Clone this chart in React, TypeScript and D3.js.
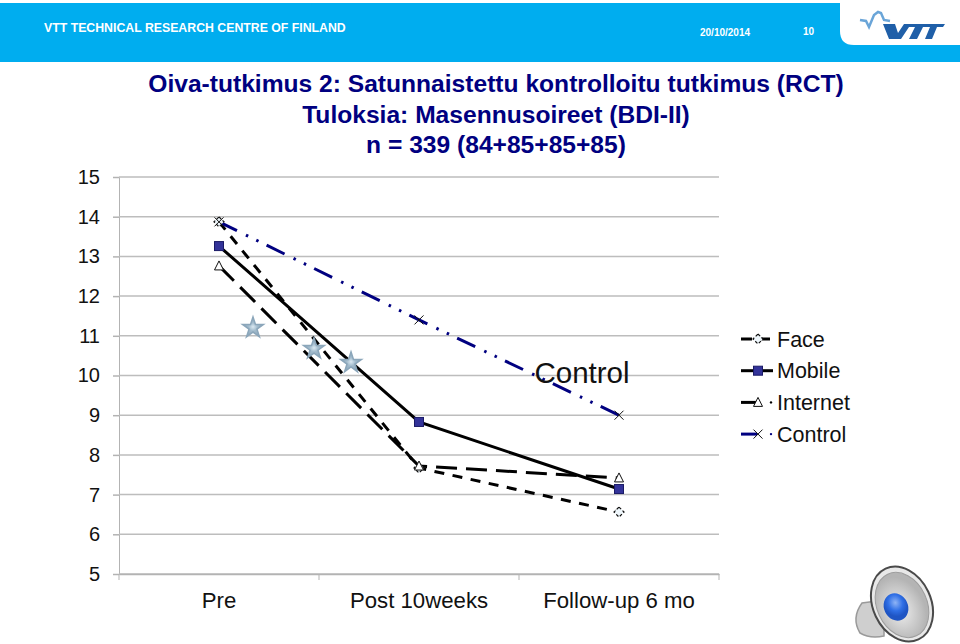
import React, { useEffect, useRef } from 'react'
import * as d3 from 'd3'

const categories = ['Pre', 'Post 10weeks', 'Follow-up 6 mo']
const yTicks = [5, 6, 7, 8, 9, 10, 11, 12, 13, 14, 15]
const face = [13.87, 7.67, 6.56]
const mobile = [13.26, 8.83, 7.14]
const internet = [12.76, 7.72, 7.42]
const control = [13.87, 11.4, 9.0]
// significance stars: position along the axis in category units, then value
const starX = [0.17, 0.475, 0.66]
const starY = [11.2, 10.67, 10.32]
const titleLines = [
  'Oiva-tutkimus 2: Satunnaistettu kontrolloitu tutkimus (RCT)',
  'Tuloksia: Masennusoireet (BDI-II)',
  'n = 339 (84+85+85+85)',
]

const FONT = 'Liberation Sans, Arial, sans-serif'
const NAVY = '#000080'

const series = [
  { name: 'Face', values: face, color: '#000', width: 3, dash: '10 8.5', marker: 'diamond' },
  { name: 'Mobile', values: mobile, color: '#000', width: 3, dash: '', marker: 'square' },
  { name: 'Internet', values: internet, color: '#000', width: 3, dash: '21 9', marker: 'triangle' },
  { name: 'Control', values: control, color: NAVY, width: 3, dash: '20 10 2.5 9 2.5 9', marker: 'cross' },
]

const drawMarker = (g: any, kind: string, x: number, y: number) => {
  if (kind === 'square') {
    g.append('rect')
      .attr('x', x - 4.5)
      .attr('y', y - 4.5)
      .attr('width', 9)
      .attr('height', 9)
      .attr('fill', '#333399')
      .attr('stroke', '#1a1a66')
      .attr('stroke-width', 1)
  } else if (kind === 'diamond') {
    g.append('path')
      .attr('d', `M${x},${y - 5}L${x + 5},${y}L${x},${y + 5}L${x - 5},${y}Z`)
      .attr('fill', '#eef6fb')
      .attr('stroke', '#111')
      .attr('stroke-width', 1.2)
      .attr('stroke-dasharray', '3 2')
  } else if (kind === 'triangle') {
    g.append('path')
      .attr('d', `M${x},${y - 5}L${x + 4.5},${y + 4}L${x - 4.5},${y + 4}Z`)
      .attr('fill', '#fff')
      .attr('stroke', '#111')
      .attr('stroke-width', 1)
  } else {
    g.append('path')
      .attr('d', `M${x - 4.5},${y - 4.5}L${x + 4.5},${y + 4.5}M${x + 4.5},${y - 4.5}L${x - 4.5},${y + 4.5}`)
      .attr('fill', 'none')
      .attr('stroke', '#111')
      .attr('stroke-width', 1)
  }
}

const App = () => {
  const chartRef = useRef<SVGSVGElement>(null)

  useEffect(() => {
    const svg = d3.select(chartRef.current)
    svg.selectAll('*').remove()

    const defs = svg.append('defs')
    const cone = defs.append('radialGradient').attr('id', 'cone').attr('cx', '42%').attr('cy', '55%')
    cone.append('stop').attr('offset', '0%').attr('stop-color', '#f0f0f0')
    cone.append('stop').attr('offset', '100%').attr('stop-color', '#b4b4b4')
    const ball = defs.append('radialGradient').attr('id', 'ball').attr('cx', '55%').attr('cy', '35%')
    ball.append('stop').attr('offset', '0%').attr('stop-color', '#8fb4f5')
    ball.append('stop').attr('offset', '60%').attr('stop-color', '#2f6fe6')
    ball.append('stop').attr('offset', '100%').attr('stop-color', '#1f55c4')
    const starFill = defs.append('radialGradient').attr('id', 'starFill')
    starFill.append('stop').attr('offset', '0%').attr('stop-color', '#dbe9f2')
    starFill.append('stop').attr('offset', '40%').attr('stop-color', '#a3bccd')
    starFill.append('stop').attr('offset', '100%').attr('stop-color', '#8ba6ba')

    // Header band
    svg.append('rect').attr('x', 0).attr('y', 3).attr('width', 960).attr('height', 59).attr('fill', '#00adef')
    svg
      .append('path')
      .attr('d', 'M840,3H960V45H854Q840,45 840,31Z')
      .attr('fill', '#fff')
    svg
      .append('text')
      .attr('x', 44)
      .attr('y', 32)
      .attr('font-size', 12.3)
      .attr('font-weight', 'bold')
      .attr('fill', '#fff')
      .text('VTT TECHNICAL RESEARCH CENTRE OF FINLAND')
    svg
      .append('text')
      .attr('x', 700)
      .attr('y', 36)
      .attr('font-size', 10)
      .attr('font-weight', 'bold')
      .attr('fill', '#fff')
      .text('20/10/2014')
    svg
      .append('text')
      .attr('x', 803)
      .attr('y', 35)
      .attr('font-size', 10)
      .attr('font-weight', 'bold')
      .attr('fill', '#fff')
      .text('10')

    // VTT logo
    svg
      .append('path')
      .attr('d', 'M860,20L866,21L869,27L874,15L878,12L881,13L884,20L890,21')
      .attr('fill', 'none')
      .attr('stroke', '#6aa5d8')
      .attr('stroke-width', 2.5)
    svg
      .append('path')
      .attr('d', 'M883,24H895L898,33L904,24H911L901,39H889Z')
      .attr('fill', '#1f5fa8')
    svg
      .append('path')
      .attr('d', 'M908,24H931L929,27H923L917,39H909L915,27H906Z')
      .attr('fill', '#1f5fa8')
    svg
      .append('path')
      .attr('d', 'M930,24H945L943,27H937L932,39H925L930,27H928Z')
      .attr('fill', '#1f5fa8')

    // Title
    titleLines.forEach((line, i) => {
      svg
        .append('text')
        .attr('x', 496)
        .attr('y', 92 + i * 30.5)
        .attr('text-anchor', 'middle')
        .attr('font-size', 24.6)
        .attr('font-weight', 'bold')
        .attr('fill', NAVY)
        .text(line)
    })

    const xScale = d3.scaleBand().domain(categories).range([119, 719])
    const yScale = d3.scaleLinear().domain([5, 15]).range([574, 177])
    const xPos = (i: number) => (xScale(categories[i]) as number) + xScale.bandwidth() / 2

    // Grid and y axis
    const yAxisGroup = svg.append('g').attr('transform', 'translate(119,0)')
    yAxisGroup.call(d3.axisLeft(yScale).tickValues(yTicks).tickSize(6).tickPadding(13) as any)
    yAxisGroup.select('.domain').attr('stroke', '#b3b3b3').attr('stroke-width', 1)
    yAxisGroup.selectAll('line').attr('stroke', '#b3b3b3').attr('stroke-width', 1.5)
    yAxisGroup.selectAll('text').attr('font-size', 20).attr('font-family', FONT).attr('fill', '#111')
    svg
      .append('g')
      .selectAll('line')
      .data(yTicks)
      .join('line')
      .attr('x1', 119)
      .attr('x2', 719)
      .attr('y1', (d) => yScale(d))
      .attr('y2', (d) => yScale(d))
      .attr('stroke', '#bdbdbd')
      .attr('stroke-width', 1.5)

    // X axis
    const xAxisGroup = svg.append('g').attr('transform', 'translate(0,574)')
    xAxisGroup.call(d3.axisBottom(xScale).tickSize(0).tickPadding(18) as any)
    xAxisGroup.select('.domain').attr('stroke', '#b3b3b3').attr('stroke-width', 1.5)
    xAxisGroup.selectAll('text').attr('font-size', 22.2).attr('font-family', FONT).attr('fill', '#111')
    svg
      .append('g')
      .selectAll('line')
      .data(d3.range(categories.length + 1))
      .join('line')
      .attr('x1', (d) => 119 + d * xScale.bandwidth())
      .attr('x2', (d) => 119 + d * xScale.bandwidth())
      .attr('y1', 574)
      .attr('y2', 580)
      .attr('stroke', '#b3b3b3')
      .attr('stroke-width', 1)

    // Series lines
    const line = d3
      .line<number>()
      .x((_, i) => xPos(i))
      .y((d) => yScale(d))
    series.forEach((s) => {
      svg
        .append('path')
        .attr('d', line(s.values))
        .attr('fill', 'none')
        .attr('stroke', s.color)
        .attr('stroke-width', s.width)
        .attr('stroke-dasharray', s.dash)
    })
    series.forEach((s) => {
      const g = svg.append('g')
      s.values.forEach((v, i) => drawMarker(g, s.marker, xPos(i), yScale(v)))
    })

    // Stars
    const star = d3.symbol().type(d3.symbolStar).size(135)
    starX.forEach((sx, i) => {
      svg
        .append('path')
        .attr('d', star())
        .attr('transform', `translate(${xPos(0) + sx * xScale.bandwidth()},${yScale(starY[i])})`)
        .attr('fill', 'url(#starFill)')
        .attr('stroke', '#8ba6ba')
        .attr('stroke-width', 1.5)
    })

    // Control label inside the plot
    svg
      .append('text')
      .attr('x', 582)
      .attr('y', 383)
      .attr('text-anchor', 'middle')
      .attr('font-size', 29.5)
      .attr('fill', '#111')
      .text('Control')

    // Legend
    series.forEach((s, i) => {
      const y = 339 + i * 31.7
      const g = svg.append('g')
      g.append('line')
        .attr('x1', 741)
        .attr('x2', s.marker === 'square' || s.marker === 'diamond' ? 773 : 757)
        .attr('y1', y)
        .attr('y2', y)
        .attr('stroke', s.color)
        .attr('stroke-width', 3)
        .attr('stroke-dasharray', s.marker === 'diamond' ? '11 6 12' : '')
      if (s.marker === 'triangle' || s.marker === 'cross') {
        g.append('circle').attr('cx', 771).attr('cy', y).attr('r', 1.2).attr('fill', s.color)
      }
      drawMarker(g, s.marker, 758, y)
      g.append('text')
        .attr('x', 777)
        .attr('y', y + 7.5)
        .attr('font-size', 21.5)
        .attr('fill', '#111')
        .text(s.name)
    })

    // Speaker icon
    const speaker = svg.append('g')
    speaker
      .append('path')
      .attr('d', 'M862,603Q851,618 860,633Q870,639 884,636L884,600Z')
      .attr('fill', '#cfcfcf')
      .attr('stroke', '#9a9a9a')
      .attr('stroke-width', 1.5)
    speaker
      .append('ellipse')
      .attr('cx', 902)
      .attr('cy', 604)
      .attr('rx', 29)
      .attr('ry', 39)
      .attr('transform', 'rotate(-25 902 604)')
      .attr('fill', '#e8e8e8')
      .attr('stroke', '#4a4a4a')
      .attr('stroke-width', 2)
    speaker
      .append('ellipse')
      .attr('cx', 902)
      .attr('cy', 605)
      .attr('rx', 25)
      .attr('ry', 34)
      .attr('transform', 'rotate(-25 902 605)')
      .attr('fill', 'url(#cone)')
      .attr('stroke', '#9d9d9d')
      .attr('stroke-width', 1)
    speaker
      .append('ellipse')
      .attr('cx', 896)
      .attr('cy', 607)
      .attr('rx', 12)
      .attr('ry', 14)
      .attr('transform', 'rotate(-25 896 607)')
      .attr('fill', 'url(#ball)')
  }, [])

  return (
    <svg
      ref={chartRef}
      width={960}
      height={644}
      fontFamily={FONT}
      style={{ position: 'absolute', left: 0, top: 0, background: '#fff' }}
    />
  )
}

export default App
